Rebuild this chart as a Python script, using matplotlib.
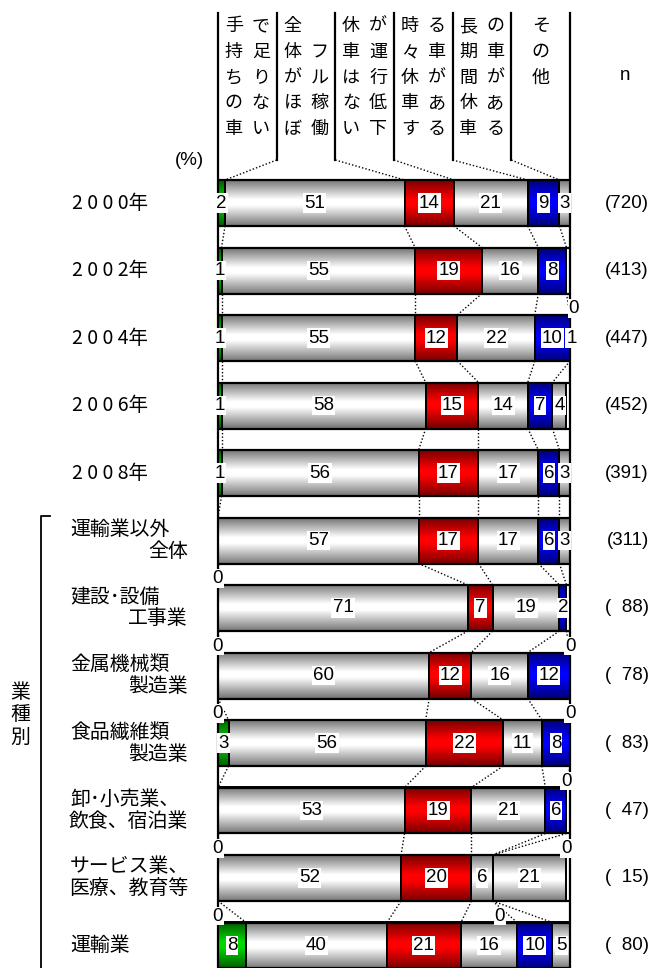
import numpy as np
import matplotlib
matplotlib.use("Agg")
import matplotlib.pyplot as plt
from matplotlib.colors import LinearSegmentedColormap

plt.rcParams['font.family'] = ['Noto Sans CJK JP', 'DejaVu Sans']

# data
row_labels = ["2000年", "2002年", "2004年", "2006年", "2008年",
              "運輸業以外\n全体", "建設･設備\n工事業", "金属機械類\n製造業",
              "食品繊維類\n製造業", "卸･小売業、\n飲食、宿泊業",
              "サービス業、\n医療、教育等", "運輸業"]
shortage = [2, 1, 1, 1, 1, 0, 0, 0, 3, 0, 0, 8]
full_use = [51, 55, 55, 58, 56, 57, 71, 60, 56, 53, 52, 40]
reduced = [14, 19, 12, 15, 17, 17, 7, 12, 22, 19, 20, 21]
sometimes = [21, 16, 22, 14, 17, 17, 19, 16, 11, 21, 6, 16]
long_term = [9, 8, 10, 7, 6, 6, 2, 12, 8, 6, 0, 10]
other = [3, 0, 1, 4, 3, 3, 0, 0, 0, 0, 21, 5]
n_resp = [720, 413, 447, 452, 391, 311, 88, 78, 83, 47, 15, 80]
# boundary index where a "0" is written above the bar
zero_marks = [[], [], [6], [], [], [], [0], [0, 6], [0, 6], [6], [0, 6], [0, 4]]
headers = [("手持ちの車", "で足りない"), ("全体がほぼ", "フル稼働"),
           ("休車はない", "が運行低下"), ("時々休車す", "る車がある"),
           ("長期間休車", "の車がある"), ("その他",)]

series = [shortage, full_use, reduced, sometimes, long_term, other]
shades = [("#005a00", "#00d800"), ("#767676", "#ffffff"), ("#780000", "#ff0000"),
          ("#767676", "#ffffff"), ("#00007a", "#0000ff"), ("#767676", "#ffffff")]

W, H = 662, 968
X0, X1 = 218, 570
Y0, DY = 203, 67.5
BH = 46 / DY
NUMFONT = ['Liberation Sans']


def px(x):
    return (x - X0) / (X1 - X0) * 100


def py(y):
    return (y - Y0) / DY


fig = plt.figure(figsize=(W / 100, H / 100), dpi=100)
ax = fig.add_axes([X0 / W, 0, (X1 - X0) / W, 1])
ax.axis('off')

vals = np.array(series, dtype=float).T
cum = np.hstack([np.zeros((len(row_labels), 1)), np.cumsum(vals, axis=1)])
rows = np.arange(len(row_labels))
grad = np.linspace(0, 1, 200).reshape(-1, 1)

# gradient filled segments
for j, (dark, light) in enumerate(shades):
    cmap = LinearSegmentedColormap.from_list(
        "g%d" % j, [(0, dark), (0.42, light), (0.55, light), (1, dark)])
    for i in rows:
        v = vals[i, j]
        if v <= 0:
            continue
        left = cum[i, j]
        right = min(cum[i, j + 1], 100.6)
        ax.imshow(grad, cmap=cmap, aspect='auto', interpolation='bilinear',
                  extent=(left, right, i + BH / 2, i - BH / 2), zorder=2)
        ax.barh(i, right - left, left=left, height=BH, fill=False,
                edgecolor='black', linewidth=1.4, zorder=3)
        ax.text((left + cum[i, j + 1]) / 2, i, "%d" % v, ha='center', va='center',
                fontsize=13.5, family=NUMFONT, zorder=6,
                bbox=dict(boxstyle='square,pad=0.06', fc='white', ec='none'))

for i in rows:
    ax.plot([0, 100], [i - BH / 2, i - BH / 2], color='black', lw=1.6, zorder=4)
    ax.plot([0, 100], [i + BH / 2, i + BH / 2], color='black', lw=1.6, zorder=4)
    for k in zero_marks[i]:
        ax.text(cum[i, k] - (5 if 0 < k < 6 else 0), i - BH / 2 + 0.03, "0",
                ha='center', va='bottom', fontsize=13.5, family=NUMFONT,
                zorder=7, bbox=dict(boxstyle='square,pad=0.04', fc='white', ec='none'))
    label = "(%d)" % n_resp[i] if n_resp[i] >= 100 else "(  %d)" % n_resp[i]
    ax.text(px(649), i, label, ha='right', va='center', fontsize=13.5, family=NUMFONT)

# dotted connectors between bars
dot = dict(color='black', lw=1, linestyle=(0, (1, 1.5)), zorder=1)
for i in rows[:-1]:
    for k in range(1, 6):
        ax.plot([cum[i, k], cum[i + 1, k]], [i + BH / 2, i + 1 - BH / 2], **dot)

# header
top, sep_bottom = py(13), py(160)
for k in range(1, 6):
    xs = k * 100 / 6
    ax.plot([xs, xs], [top, sep_bottom], color='black', lw=1.6)
    ax.plot([xs, cum[0, k]], [sep_bottom, -BH / 2], **dot)
ax.plot([0, 0], [top, py(968)], color='black', lw=1.6, zorder=5, clip_on=False)
ax.plot([100, 100], [top, py(968)], color='black', lw=1.6, zorder=5, clip_on=False)

char_rows = [26, 52, 77.5, 103, 128.5]
for c, cols in enumerate(headers):
    xc = (c + 0.5) * 100 / 6
    if len(cols) == 1:
        for r, ch in enumerate(cols[0]):
            ax.text(xc, py(char_rows[r]), ch, ha='center', va='center', fontsize=13)
        continue
    for s, text in enumerate(cols):
        xs = xc + (-13.5 if s == 0 else 13.5) / 3.52
        start = len(char_rows) - len(text) if s == 1 else 0
        for r, ch in enumerate(text):
            ax.text(xs, py(char_rows[start + r]), ch, ha='center', va='center',
                    fontsize=13)

ax.text(px(625), py(75), "n", ha='center', va='center', fontsize=13.5, family=NUMFONT)
ax.text(px(189), py(160), "(%)", ha='center', va='center', fontsize=13.5,
        family=NUMFONT)

# row labels
for i, lab in enumerate(row_labels):
    if lab[:4].isdigit():
        ax.text(px(72), i, " ".join(lab[:4]) + lab[4:], ha='left', va='center',
                fontsize=14)
    elif "\n" in lab:
        l1, l2 = lab.split("\n")
        ax.text(px(70), i - 11 / DY, l1, ha='left', va='center', fontsize=14.3)
        ax.text(px(188), i + 11 / DY, l2, ha='right', va='center', fontsize=14.3)
    else:
        ax.text(px(70), i, lab, ha='left', va='center', fontsize=14.3)

# bracket for industries
ax.plot([px(50), px(41), px(41)], [py(516), py(516), py(968)], color='black',
        lw=1.3, clip_on=False)
for r, ch in enumerate("業種別"):
    ax.text(px(20), py(693 + 22 * r), ch, ha='center', va='center', fontsize=14.3)

ax.set_xlim(0, 100)
ax.set_ylim(py(H), py(0))
fig.savefig("out.png", dpi=100)
